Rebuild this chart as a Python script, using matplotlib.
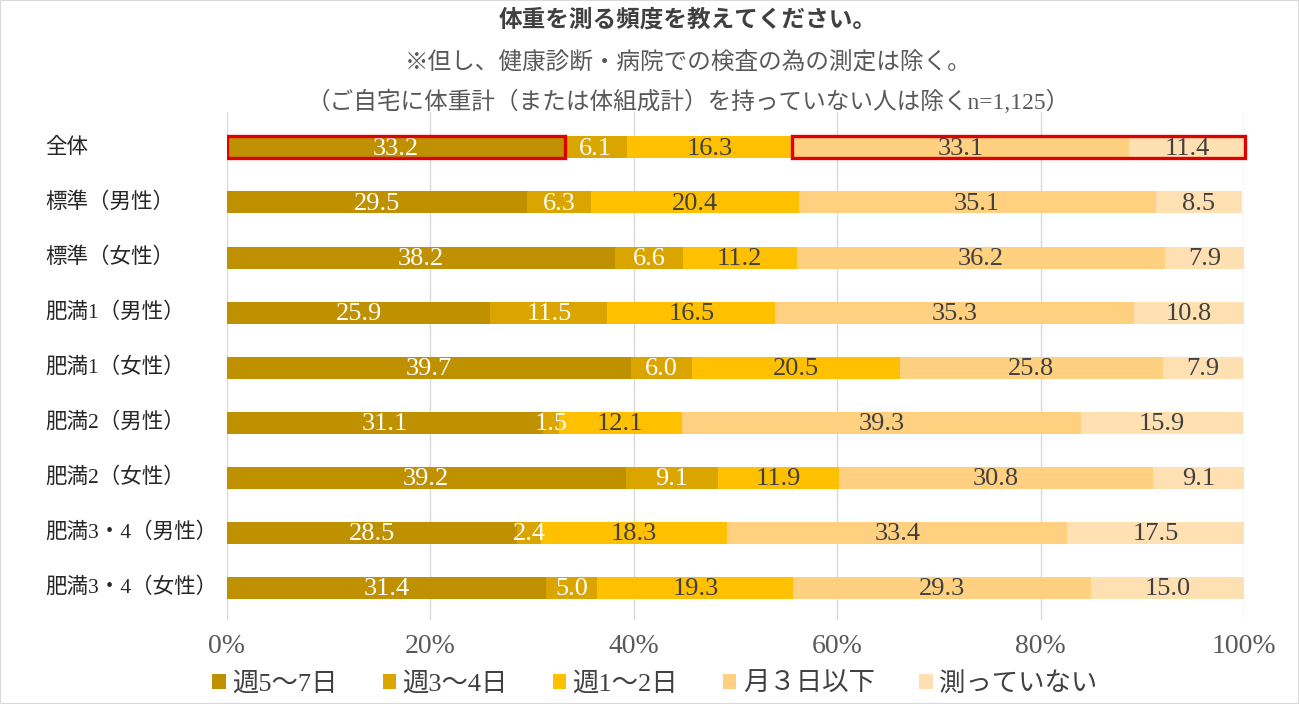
import matplotlib
matplotlib.use("Agg")
import matplotlib.pyplot as plt
from matplotlib.patches import Rectangle
import matplotlib.transforms as mtransforms
import numpy as np

plt.rcParams['font.family'] = ['Liberation Serif', 'Noto Sans CJK JP', 'DejaVu Sans']

title_lines = ["体重を測る頻度を教えてください。",
               "※但し、健康診断・病院での検査の為の測定は除く。",
               "（ご自宅に体重計（または体組成計）を持っていない人は除くn=1,125）"]

categories = ["全体", "標準（男性）", "標準（女性）", "肥満1（男性）", "肥満1（女性）",
              "肥満2（男性）", "肥満2（女性）", "肥満3・4（男性）", "肥満3・4（女性）"]

series_names = ["週5～7日", "週3～4日", "週1～2日", "月３日以下", "測っていない"]

s_5to7 = [33.2, 29.5, 38.2, 25.9, 39.7, 31.1, 39.2, 28.5, 31.4]
s_3to4 = [6.1, 6.3, 6.6, 11.5, 6.0, 1.5, 9.1, 2.4, 5.0]
s_1to2 = [16.3, 20.4, 11.2, 16.5, 20.5, 12.1, 11.9, 18.3, 19.3]
s_month3 = [33.1, 35.1, 36.2, 35.3, 25.8, 39.3, 30.8, 33.4, 29.3]
s_none = [11.4, 8.5, 7.9, 10.8, 7.9, 15.9, 9.1, 17.5, 15.0]

xticks = [0, 20, 40, 60, 80, 100]
xtick_labels = ["0%", "20%", "40%", "60%", "80%", "100%"]

colors = ["#BF9000", "#DBA500", "#FFC000", "#FFD080", "#FFE0B3"]
label_colors = ["white", "white", "#404040", "#404040", "#404040"]

series = [s_5to7, s_3to4, s_1to2, s_month3, s_none]

fig = plt.figure(figsize=(12.99, 7.04), dpi=100)
ax = fig.add_axes([0.1747, 0.1193, 0.783, 0.7216])

y = np.arange(len(categories))
bar_h = 0.4
left = np.zeros(len(categories))
bars_all = []
for vals, col, lcol, name in zip(series, colors, label_colors, series_names):
    vals = np.array(vals)
    bars = ax.barh(y, vals, left=left, height=bar_h, color=col, label=name, zorder=3)
    bars_all.append(bars)
    for yi, (l, v) in enumerate(zip(left, vals)):
        ax.text(l + v / 2, yi + 0.02, f"{v:.1f}", ha='center', va='center',
                fontsize=19, color=lcol, zorder=5)
    left = left + vals

# red highlight boxes on 全体
hb = bar_h / 2
r1 = Rectangle((0, -hb), s_5to7[0], bar_h, fill=False, edgecolor="#E00000",
               linewidth=2.4, zorder=6)
start2 = s_5to7[0] + s_3to4[0] + s_1to2[0]
r2 = Rectangle((start2, -hb), s_month3[0] + s_none[0], bar_h, fill=False,
               edgecolor="#E00000", linewidth=2.4, zorder=6, clip_on=False)
ax.add_patch(r1)
ax.add_patch(r2)

ax.set_xlim(0, 100)
ax.set_ylim(8.59, -0.645)
ax.set_xticks(xticks)
ax.set_xticklabels(xtick_labels, fontsize=20, color="#595959")
ax.tick_params(axis='x', length=0, pad=10)
ax.set_yticks([])
ax.grid(axis='x', color="#D9D9D9", linewidth=1.0, zorder=0)
for sp in ax.spines.values():
    sp.set_visible(False)

trans = mtransforms.blended_transform_factory(fig.transFigure, ax.transData)
for yi, cat in enumerate(categories):
    ax.text(45 / 1299, yi, cat, transform=trans, ha='left', va='center',
            fontsize=15.5, color="#262626")

title_y = [1 - 20 / 704, 1 - 62 / 704, 1 - 102 / 704]
for i, (t, ty) in enumerate(zip(title_lines, title_y)):
    fig.text(688 / 1299, ty, t, ha='center', va='center', fontsize=17,
             color="#404040" if i == 0 else "#595959",
             fontweight='bold' if i == 0 else 'normal')

leg = fig.legend(handles=bars_all, labels=series_names, loc='center',
                 bbox_to_anchor=(655 / 1299, 1 - 684 / 704), ncol=5, frameon=False,
                 fontsize=19, handlelength=0.5, handleheight=0.5, handletextpad=0.25,
                 columnspacing=1.7, labelcolor="#404040")

fig.patches.append(Rectangle((0, 0), 1, 1, transform=fig.transFigure, fill=False,
                             edgecolor="#D9D9D9", linewidth=1.5))

fig.savefig("out.png", dpi=100)
